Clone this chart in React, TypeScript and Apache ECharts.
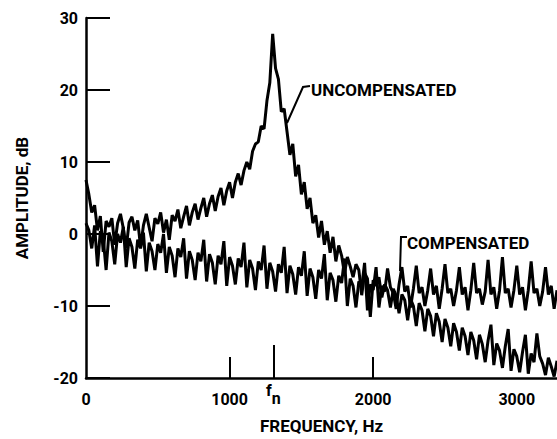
import React, { useEffect, useRef } from "react";
import * as echarts from "echarts";

// Spectrum bins are 20 Hz apart, starting at 0 Hz
const FREQ_STEP = 20;

const uncompensated = [
  7.5, 5.5, 3.0, 4.0, 0.5, 2.5, -2.5, 1.8, 1.0, 2.2,
  -1.5, 1.5, 2.8, 0.8, -2.0, 1.6, 2.4, 0.5, 1.9, -1.8,
  1.2, 2.8, 0.9, -1.0, 2.2, 1.4, 3.0, 0.2, 2.0, -0.8,
  2.6, 1.8, 3.4, 0.8, 2.4, 3.9, 1.2, 3.0, 4.2, 2.0,
  3.6, 5.0, 2.4, 4.2, 5.4, 3.2, 5.2, 6.4, 4.0, 6.0,
  7.2, 5.0, 7.2, 8.4, 6.8, 8.8, 10.0, 9.0, 11.5, 12.5,
  12.8, 15.0, 14.6, 18.5, 21.0, 27.8, 23.0, 21.5, 17.0, 17.4,
  14.2, 11.0, 12.5, 8.0, 9.6, 5.5, 7.2, 3.5, 5.0, 1.5,
  2.6, -0.5, 1.8, -1.5, 0.4, -2.6, -0.4, -3.8, -1.6, -3.0,
  -5.5, -3.2, -4.5, -6.0, -4.2, -5.0, -8.5, -5.4, -6.2, -11.5,
  -6.4, -7.2, -6.0, -8.8, -7.0, -7.8, -10.2, -7.6, -8.6, -11.0,
  -8.4, -9.2, -12.0, -9.0, -10.0, -12.8, -9.6, -10.6, -13.5, -10.4,
  -11.4, -14.2, -11.0, -12.2, -15.0, -11.8, -13.0, -15.6, -12.4, -13.6,
  -16.2, -13.0, -14.2, -16.8, -13.6, -14.8, -17.4, -14.0, -15.3, -17.8,
  -14.8, -12.6, -18.2, -15.2, -16.2, -18.6, -15.6, -13.2, -19.0, -16.0,
  -17.0, -19.2, -16.4, -14.0, -19.4, -16.6, -17.8, -13.8, -17.0, -18.0,
  -19.6, -17.2, -18.4, -19.8, -17.6,
];

const compensated = [
  1.5, 0.5, -2.0, 1.2, -4.5, 0.4, -0.6, -5.0, 0.2, -1.0,
  -4.2, 0.0, -1.2, 1.0, -4.6, -0.6, -1.8, -4.8, -0.8, -2.0,
  0.2, -5.2, -1.2, -2.4, -5.0, -1.4, -2.6, 0.0, -5.4, -1.8,
  -3.0, -6.0, -2.0, -3.2, -0.6, -6.2, -2.4, -3.6, -6.4, -2.6,
  -3.8, -0.8, -6.6, -2.8, -4.0, -7.0, -3.0, -4.2, -1.0, -7.2,
  -3.2, -4.4, -7.0, -3.4, -4.6, -1.2, -7.4, -3.6, -4.8, -7.8,
  -3.8, -5.0, -1.6, -7.6, -4.0, -5.2, -8.0, -4.2, -5.4, -1.8,
  -8.2, -4.4, -5.6, -8.4, -4.6, -5.8, -2.4, -8.6, -4.8, -6.0,
  -9.0, -5.0, -6.2, -2.8, -9.2, -5.4, -6.4, -9.4, -5.8, -6.8,
  -3.4, -10.0, -6.2, -7.2, -10.2, -6.6, -7.4, -4.0, -10.6, -7.0,
  -7.8, -4.6, -10.2, -7.2, -8.0, -4.8, -7.4, -8.2, -10.4, -7.0,
  -4.6, -8.0, -7.2, -10.2, -7.6, -4.4, -8.2, -7.4, -10.0, -7.8,
  -4.8, -8.4, -7.2, -10.4, -7.6, -4.2, -8.2, -7.6, -10.0, -7.8,
  -4.6, -8.4, -7.4, -10.6, -7.8, -4.0, -8.2, -7.6, -9.8, -8.0,
  -3.6, -8.4, -7.4, -10.4, -7.8, -3.2, -8.2, -7.6, -10.2, -7.8,
  -4.4, -8.4, -7.4, -10.6, -7.8, -3.8, -8.2, -7.6, -10.0, -8.0,
  -4.6, -8.4, -7.2, -10.4, -7.8,
];

const xLabelValues = [0, 1000, 2000, 3000];
const xTickValues = [1000, 2000];
const naturalFrequency = 1305;
const X_MIN = 0;
const X_MAX = 3280;
const Y_MIN = -20;
const Y_MAX = 30;
const Y_INTERVAL = 10;

const FONT = 'Roboto, "Liberation Sans", sans-serif';

const toPairs = (vals: number[]) => vals.map((v, i) => [i * FREQ_STEP, v]);

export default function App() {
  const ref = useRef<HTMLDivElement>(null);

  useEffect(() => {
    if (!ref.current) return;
    const chart = echarts.init(ref.current, undefined, { renderer: "svg" });
    const axisText = { color: "#000", fontFamily: FONT, fontWeight: "bold" as const, fontSize: 16 };
    chart.setOption({
      animation: false,
      backgroundColor: "#fff",
      grid: { left: 86, top: 18, right: 0, bottom: 57, containLabel: false },
      xAxis: [
        {
          type: "value",
          min: X_MIN,
          max: X_MAX,
          name: "FREQUENCY, Hz",
          nameLocation: "middle",
          nameGap: 39,
          nameTextStyle: { ...axisText, fontSize: 17 },
          axisLine: { show: true, onZero: false, lineStyle: { color: "#000", width: 2.5 } },
          axisTick: { show: true, inside: true, length: 21, customValues: xTickValues, lineStyle: { color: "#000", width: 2 } },
          axisLabel: {
            ...axisText,
            margin: 13,
            customValues: xLabelValues,
            formatter: (v: number) => String(v),
          },
          splitLine: { show: false },
        },
        {
          type: "value",
          min: X_MIN,
          max: X_MAX,
          position: "bottom",
          axisLine: { show: false, onZero: false },
          axisTick: { show: true, inside: true, length: 33, customValues: [naturalFrequency], lineStyle: { color: "#000", width: 2 } },
          axisLabel: {
            ...axisText,
            margin: 4,
            customValues: [naturalFrequency],
            formatter: () => "{f|f}{n|n}",
            rich: {
              f: { ...axisText, fontSize: 16, padding: [0, 0, 8, 0] },
              n: { ...axisText, fontSize: 16, padding: [8, 0, 0, 0] },
            },
          },
          splitLine: { show: false },
        },
      ],
      yAxis: {
        type: "value",
        min: Y_MIN,
        max: Y_MAX,
        interval: Y_INTERVAL,
        name: "AMPLITUDE, dB",
        nameLocation: "middle",
        nameGap: 56,
        nameRotate: 90,
        nameTextStyle: { ...axisText, fontSize: 17 },
        axisLine: { show: true, onZero: false, lineStyle: { color: "#000", width: 2.5 } },
        axisTick: { show: true, inside: true, length: 24, lineStyle: { color: "#000", width: 2 } },
        axisLabel: { ...axisText, margin: 8 },
        splitLine: { show: false },
      },
      series: [
        {
          name: "UNCOMPENSATED",
          type: "line",
          data: toPairs(uncompensated),
          showSymbol: false,
          lineStyle: { color: "#000", width: 3 },
          z: 3,
        },
        {
          name: "COMPENSATED",
          type: "line",
          data: toPairs(compensated),
          showSymbol: false,
          lineStyle: { color: "#000", width: 3 },
          z: 3,
        },
      ],
      graphic: [
        {
          type: "text",
          x: 311,
          y: 90,
          style: { text: "UNCOMPENSATED", fill: "#000", font: `bold 17px ${FONT}`, verticalAlign: "middle" },
        },
        {
          type: "polyline",
          shape: { points: [[310, 86], [303, 87], [287, 123]] },
          style: { stroke: "#000", lineWidth: 2, fill: "none" },
        },
        {
          type: "text",
          x: 407,
          y: 243,
          style: { text: "COMPENSATED", fill: "#000", font: `bold 17px ${FONT}`, verticalAlign: "middle" },
        },
        {
          type: "polyline",
          shape: { points: [[407, 237], [401, 237], [400, 271]] },
          style: { stroke: "#000", lineWidth: 2, fill: "none" },
        },
      ],
    });
    return () => chart.dispose();
  }, []);

  return (
    <div
      ref={ref}
      style={{ position: "fixed", left: 0, top: 0, width: 557, height: 439, background: "#fff" }}
    />
  );
}
